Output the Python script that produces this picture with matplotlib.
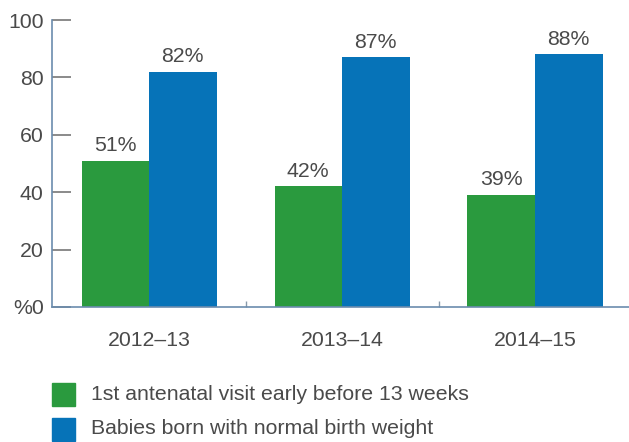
import matplotlib
matplotlib.use("Agg")
import matplotlib.pyplot as plt
from matplotlib.patches import Rectangle

categories = ["2012\u201313", "2013\u201314", "2014\u201315"]
series_names = ["1st antenatal visit early before 13 weeks",
                "Babies born with normal birth weight"]
early_visit = [51, 42, 39]
normal_weight = [82, 87, 88]
yticks = [0, 20, 40, 60, 80, 100]
ytick_labels = ["%0", "20", "40", "60", "80", "100"]

green = "#2a9a3e"
blue = "#0673b8"
axis_col = "#6b8cae"
text_col = "#4a4a4a"
fs = 15.3

plt.rcParams['font.family'] = ['Liberation Sans', 'DejaVu Sans']

fig = plt.figure(figsize=(6.29, 4.42), dpi=100)
W, H = 629, 442
left, right, top, bottom = 52, 629, 20, 307
ax = fig.add_axes([left / W, 1 - bottom / H, (right - left) / W, (bottom - top) / H])

x = range(len(categories))
w = 0.35
b1 = ax.bar([i - w / 2 for i in x], early_visit, width=w, color=green)
b2 = ax.bar([i + w / 2 for i in x], normal_weight, width=w, color=blue)
for bars, vals in ((b1, early_visit), (b2, normal_weight)):
    for r, v in zip(bars, vals):
        ax.text(r.get_x() + r.get_width() / 2, v + 2.0, f"{v}%",
                ha="center", va="bottom", fontsize=fs, color=text_col)

ax.set_xlim(-0.503, 2.487)
ax.set_ylim(0, 100)
ax.set_yticks(yticks)
ax.set_yticklabels(ytick_labels, fontsize=fs, color=text_col)
ax.tick_params(axis="y", direction="in", length=14, width=1.2, color="#777777", pad=6)

ax.set_xticks([0.5, 1.5])
ax.set_xticklabels([])
ax.tick_params(axis="x", direction="in", length=4, width=1, color="#8899aa")
for i, c in enumerate(categories):
    ax.text(i, -8.5, c, ha="center", va="top", fontsize=fs, color=text_col)

for s in ("top", "right"):
    ax.spines[s].set_visible(False)
for s in ("left", "bottom"):
    ax.spines[s].set_color(axis_col)
    ax.spines[s].set_linewidth(1.2)

# legend
leg_y = [394.5, 429]
for yy, col, name in zip(leg_y, (green, blue), series_names):
    fig.patches.append(Rectangle((52 / W, 1 - (yy + 11.5) / H), 23 / W, 23 / H,
                                 transform=fig.transFigure, color=col))
    fig.text(91 / W, 1 - yy / H, name, ha="left", va="center",
             fontsize=fs, color=text_col)

fig.savefig("out.png", dpi=100)
